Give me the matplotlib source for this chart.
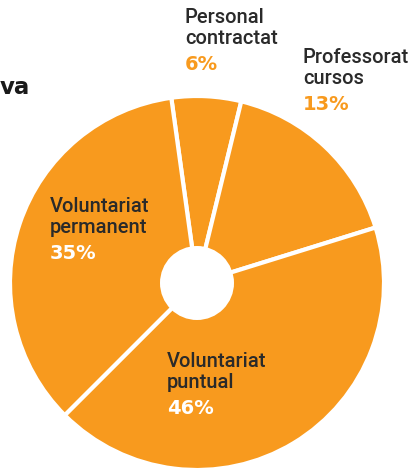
import matplotlib
matplotlib.use("Agg")
import matplotlib.pyplot as plt
from matplotlib.patches import Circle

# printed shares and the arc sizes as they are drawn in the reference
names = ["Personal\ncontractat", "Professorat\ncursos", "Voluntariat\npuntual", "Voluntariat\npermanent"]
pct_labels = ["6%", "13%", "46%", "35%"]
arc_sizes = [6.0, 16.4, 42.3, 35.3]

orange = "#F89A1E"
dark = "#2a2a2a"

W, H = 412, 469
fig = plt.figure(figsize=(W / 100, H / 100), dpi=100)
ax = fig.add_axes([0, 0, 1, 1])

cx, cy, R = 197, H - 283, 187
ax.pie(arc_sizes, center=(cx, cy), radius=R, startangle=97.9, counterclock=False,
       colors=[orange] * 4, wedgeprops=dict(edgecolor="white", linewidth=3),
       frame=True)
ax.add_patch(Circle((cx, cy), 37, facecolor="white", edgecolor="none", zorder=5))
ax.set_xlim(0, W)
ax.set_ylim(0, H)
ax.set_aspect("equal")
ax.axis("off")

label_font = dict(family="Roboto", fontsize=14.5, fontweight="medium", color=dark, linespacing=1.15)
pct_font = dict(family="DejaVu Sans", fontsize=14, fontweight="bold")

# (left, top) in pixels for each label block, and colour of the percentage
spots = [(185, 8, orange), (303, 48, orange), (167, 352, "white"), (50, 197, "white")]
for name, pct, (x, top, pc) in zip(names, pct_labels, spots):
    ax.text(x, H - top, name, va="top", ha="left", **label_font)
    ax.text(x, H - top - 47, pct, va="top", ha="left", color=pc, **pct_font)

# title fragment at the left edge
ax.text(0, H - 76, "va", va="top", ha="left", family="DejaVu Sans",
        fontsize=16.5, fontweight="heavy", color="#1a1a1a")

fig.savefig("out.png", dpi=100)
